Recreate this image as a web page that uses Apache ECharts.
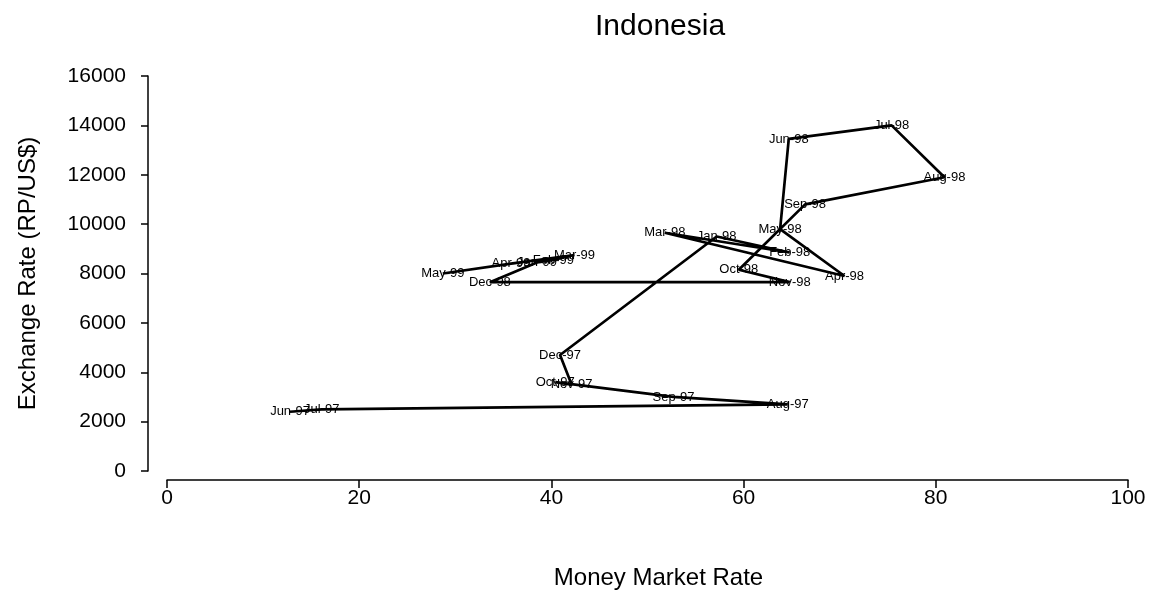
<!DOCTYPE html>
<html>
<head>
<meta charset="utf-8">
<script src="https://cdn.jsdelivr.net/npm/echarts@6/dist/echarts.min.js"></script>
<style>html,body{margin:0;padding:0;background:#fff}#c{width:1150px;height:595px}</style>
</head>
<body>
<div id="c"></div>
<script>
const months = ['Jun-97','Jul-97','Aug-97','Sep-97','Oct-97','Nov-97','Dec-97','Jan-98','Feb-98','Mar-98','Apr-98','May-98','Jun-98','Jul-98','Aug-98','Sep-98','Oct-98','Nov-98','Dec-98','Jan-99','Feb-99','Mar-99','Apr-99','May-99'];
const moneyMarketRate = [12.8,16.1,64.6,52.7,40.4,42.1,40.9,57.2,64.8,51.8,70.5,63.8,64.7,75.4,80.9,66.4,59.5,64.8,33.6,38.5,40.2,42.4,35.8,28.7];
const exchangeRate = [2400,2500,2700,3000,3600,3500,4700,9500,8850,9650,7900,9800,13450,14000,11900,10800,8150,7650,7650,8450,8550,8750,8400,8000];
const xTicks = [0,20,40,60,80,100];
const yTicks = [0,2000,4000,6000,8000,10000,12000,14000,16000];

const pts = months.map((m,i)=>({name:m, value:[moneyMarketRate[i], exchangeRate[i]]}));
const font = "'Liberation Sans', Arial, sans-serif";

const chart = echarts.init(document.getElementById('c'), null, {renderer:'canvas'});
chart.setOption({
  backgroundColor:'#fff',
  animation:false,
  title:{text:'Indonesia', left:590, top:7, textStyle:{fontFamily:font, fontSize:30, fontWeight:'normal', color:'#000'}},
  grid:{left:167, right:22, top:76, bottom:123, containLabel:false},
  xAxis:{
    type:'value', min:xTicks[0], max:xTicks[xTicks.length-1], interval:20, offset:9,
    name:'Money Market Rate', nameLocation:'middle', nameGap:86,
    nameTextStyle:{fontFamily:font, fontSize:24, color:'#000', verticalAlign:'top', padding:[0,0,0,22]},
    axisLine:{show:true, onZero:false, lineStyle:{color:'#000', width:1.5}},
    axisTick:{show:true, length:8, lineStyle:{color:'#000', width:1.5}},
    axisLabel:{fontFamily:font, fontSize:21, color:'#000', margin:8},
    splitLine:{show:false}
  },
  yAxis:{
    type:'value', min:yTicks[0], max:yTicks[yTicks.length-1], interval:2000, offset:19,
    name:'Exchange Rate (RP/US$)', nameLocation:'middle', nameGap:108,
    nameTextStyle:{fontFamily:font, fontSize:24, color:'#000'},
    axisLine:{show:true, onZero:false, lineStyle:{color:'#000', width:1.5}},
    axisTick:{show:true, length:7, lineStyle:{color:'#000', width:1.5}},
    axisLabel:{fontFamily:font, fontSize:21, color:'#000', margin:22, formatter:v=>String(v)},
    splitLine:{show:false}
  },
  series:[{
    type:'line', data:pts, showSymbol:true, symbol:'circle', symbolSize:1,
    itemStyle:{color:'rgba(0,0,0,0)'},
    lineStyle:{color:'#000', width:2.7},
    label:{show:true, position:'inside', formatter:'{b}', fontFamily:font, fontSize:13, color:'#000'},
    labelLayout:{hideOverlap:false}
  }]
});
</script>
</body>
</html>
